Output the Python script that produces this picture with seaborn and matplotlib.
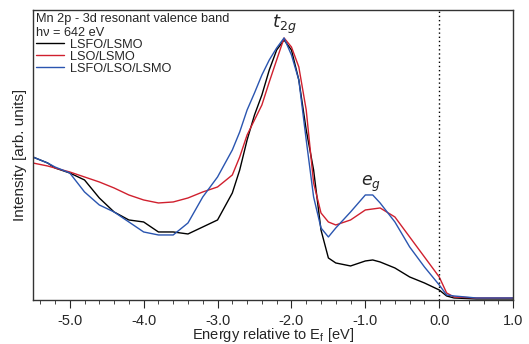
import numpy as np
import pandas as pd
import seaborn as sns
import matplotlib.pyplot as plt

# energy grid (eV relative to Ef) and intensities (arb. units)
energy = [-5.5, -5.3, -5.2, -5.0, -4.8, -4.6, -4.4, -4.2, -4.0, -3.8, -3.6, -3.4,
          -3.2, -3.0, -2.8, -2.7, -2.6, -2.5, -2.4, -2.3, -2.2, -2.1, -2.0, -1.9,
          -1.8, -1.7, -1.6, -1.5, -1.4, -1.2, -1.0, -0.9, -0.8, -0.6, -0.4, -0.2,
          0.0, 0.1, 0.2, 0.5, 1.0]

lsfo_lsmo = [143, 137, 132, 127, 120, 102, 88, 80, 78, 68, 68, 66,
             73, 80, 107, 130, 160, 185, 205, 230, 250, 260, 250, 220,
             170, 130, 70, 42, 37, 34, 39, 40, 38, 32, 23, 17,
             10, 4, 2, 1, 1]

lso_lsmo = [137, 134, 132, 128, 123, 118, 112, 105, 100, 97, 98, 102,
            108, 113, 125, 143, 165, 180, 195, 218, 240, 262, 253, 233,
            190, 117, 87, 78, 75, 80, 90, 91, 92, 83, 63, 43,
            23, 7, 3, 2, 2]

lsfo_lso_lsmo = [143, 137, 133, 127, 108, 95, 88, 78, 68, 65, 65, 77,
                 103, 123, 150, 168, 190, 207, 225, 240, 252, 262, 245, 220,
                 160, 103, 72, 63, 72, 88, 105, 105, 97, 78, 53, 33,
                 15, 5, 4, 2, 2]

series = ['LSFO/LSMO', 'LSO/LSMO', 'LSFO/LSO/LSMO']
colors = ['#000000', '#d0202e', '#2a55b0']

df = pd.concat([
    pd.DataFrame({'energy': energy, 'intensity': vals, 'sample': name})
    for name, vals in zip(series, [lsfo_lsmo, lso_lsmo, lsfo_lso_lsmo])
])

sns.set_style('ticks')
plt.rcParams['font.family'] = ['Liberation Sans', 'DejaVu Sans']

fig = plt.figure(figsize=(5.29, 3.44), dpi=100)
ax = fig.add_axes([0.062, 0.128, 0.908, 0.843])

sns.lineplot(data=df, x='energy', y='intensity', hue='sample', hue_order=series,
             palette=colors, linewidth=1.0, ax=ax)

ax.axvline(0.0, color='black', linestyle=(0, (1, 2)), linewidth=1.0)

ax.set_xlim(-5.5, 1.0)
ax.set_ylim(0, 290)
ax.set_xticks([-5.0, -4.0, -3.0, -2.0, -1.0, 0.0, 1.0])
ax.set_xticklabels(['-5.0', '-4.0', '-3.0', '-2.0', '-1.0', '0.0', '1.0'], fontsize=10.5)
ax.set_xticks(np.arange(-5.4, 1.0, 0.2), minor=True)
ax.tick_params(axis='x', which='major', length=6, direction='out', pad=4)
ax.tick_params(axis='x', which='minor', length=3, direction='out')
ax.set_yticks([])
for s in ax.spines.values():
    s.set_linewidth(1.0)
    s.set_color('#333333')

ax.set_xlabel('Energy relative to E$_\\mathregular{f}$ [eV]', fontsize=10.5, labelpad=-1)
ax.set_ylabel('Intensity [arb. units]', fontsize=11, labelpad=4)

ax.text(-2.1, 264, '$t_{2g}$', fontsize=13, ha='center', va='bottom')
ax.text(-0.92, 106, '$e_{g}$', fontsize=12.5, ha='center', va='bottom')

leg = ax.legend(title='Mn 2p - 3d resonant valence band\nh\u03bd = 642 eV',
                loc='upper left', frameon=False, fontsize=9.2, title_fontsize=9.2,
                handlelength=2.2, handletextpad=0.5, labelspacing=0.0,
                borderaxespad=0.2, borderpad=0.05)
leg._legend_box.align = 'left'
leg._legend_box.sep = 0

fig.savefig('out.png', dpi=100)
